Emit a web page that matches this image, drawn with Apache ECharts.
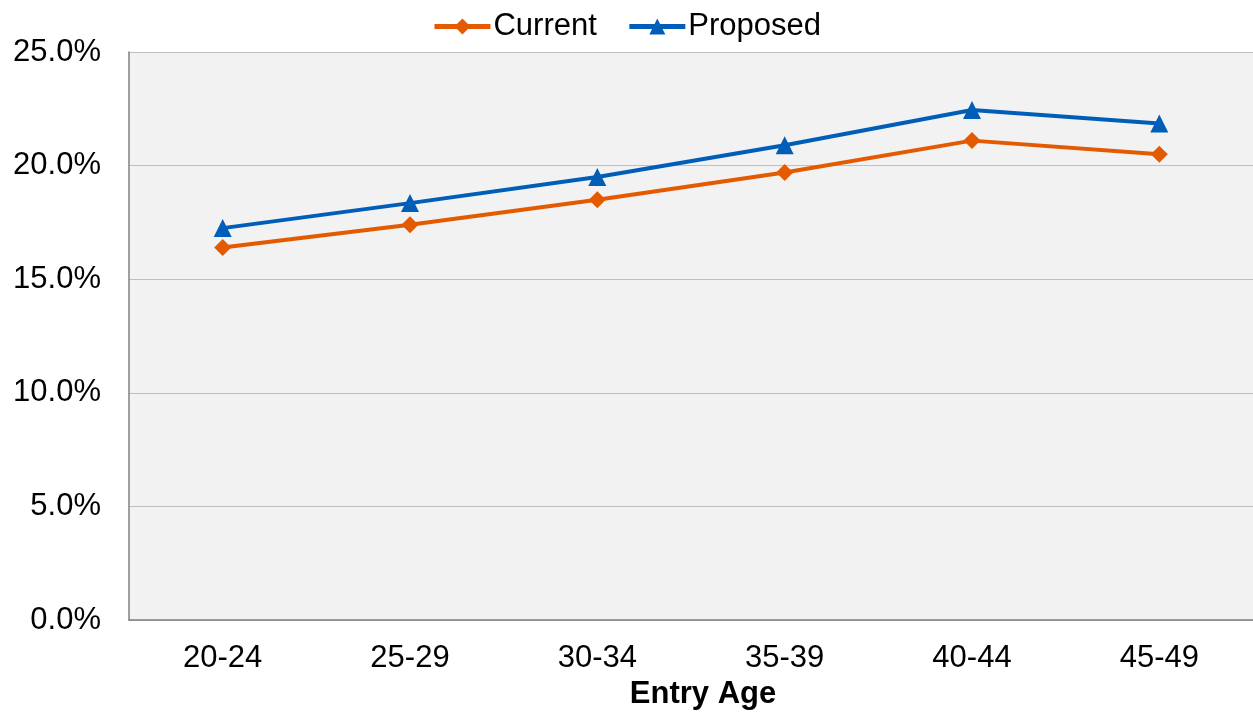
<!DOCTYPE html>
<html>
<head>
<meta charset="utf-8">
<script src="https://cdn.jsdelivr.net/npm/echarts@6/dist/echarts.min.js"></script>
<style>
  html, body { margin: 0; padding: 0; background: #fff; }
  #chart { width: 1253px; height: 715px; }
</style>
</head>
<body>
<div id="chart"></div>
<script>
var ageGroups = ['20-24', '25-29', '30-34', '35-39', '40-44', '45-49'];
var currentRates = [16.4, 17.4, 18.5, 19.7, 21.1, 20.5];
var proposedRates = [17.25, 18.35, 19.5, 20.9, 22.45, 21.85];

var font = 'Liberation Sans, Arial, sans-serif';

var chart = echarts.init(document.getElementById('chart'));

chart.setOption({
    backgroundColor: '#fff',
    textStyle: { fontFamily: font },
    legend: {
        top: 6,
        left: 'center',
        itemWidth: 56,
        itemHeight: 20,
        itemGap: 30,
        itemStyle: { borderWidth: 0 },
        lineStyle: { width: 5 },
        textStyle: { fontSize: 31, color: '#000', fontFamily: font, padding: [0, 0, 0, -2] },
        data: ['Current', 'Proposed']
    },
    grid: {
        left: 129,
        right: 0,
        top: 52,
        bottom: 89,
        show: true,
        backgroundColor: '#F2F2F2',
        borderWidth: 0
    },
    xAxis: {
        type: 'category',
        data: ageGroups,
        name: 'Entry Age',
        nameLocation: 'middle',
        nameGap: 58,
        nameTextStyle: {
            fontSize: 31,
            fontWeight: 'bold',
            color: '#000',
            fontFamily: font,
            padding: [0, 0, 0, 24]
        },
        axisLine: { lineStyle: { color: '#808080', width: 1.5 } },
        axisTick: { show: false },
        axisLabel: { fontSize: 31, color: '#000', margin: 23, fontFamily: font }
    },
    yAxis: {
        type: 'value',
        min: 0,
        max: 25,
        interval: 5,
        axisLine: { show: true, lineStyle: { color: '#808080', width: 1.5 } },
        axisTick: { show: false },
        splitLine: { lineStyle: { color: '#BFBFBF', width: 1 } },
        axisLabel: {
            fontSize: 31,
            color: '#000',
            margin: 28,
            fontFamily: font,
            formatter: function (v) { return v.toFixed(1) + '%'; }
        }
    },
    series: [
        {
            name: 'Current',
            type: 'line',
            data: currentRates,
            symbol: 'diamond',
            symbolSize: 17,
            lineStyle: { color: '#E35A00', width: 4 },
            itemStyle: { color: '#E35A00' }
        },
        {
            name: 'Proposed',
            type: 'line',
            data: proposedRates,
            symbol: 'triangle',
            symbolSize: 18,
            lineStyle: { color: '#005EB8', width: 4 },
            itemStyle: { color: '#005EB8' }
        }
    ]
});
</script>
</body>
</html>
